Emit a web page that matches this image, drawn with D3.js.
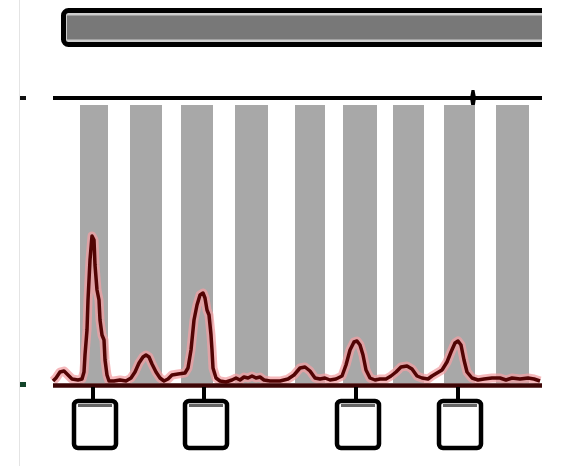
<!DOCTYPE html>
<html>
<head>
<meta charset="utf-8">
<script src="https://cdn.jsdelivr.net/npm/d3@7"></script>
<style>
  body { margin: 0; background: #fff; }
  svg { display: block; }
</style>
</head>
<body>
<div class="d3-wrapper"></div>
<script>
// positions are in units along the region, signal in intensity units
var regionSpan = [0, 245];
var axisMarks = [210];
var lanes = [[13.5, 27.5], [38.5, 54.5], [64, 80], [91, 107.5], [121, 136], [145, 162], [170, 185.5], [195.5, 211], [221.5, 238]];
var calledPeaks = [20, 75.5, 151.5, 202.5];

var tracePos = [0, 1.5, 3.5, 5.5, 7.5, 9.5, 12.5, 14.5, 15.5, 16, 17, 17.5, 18.5, 19.5, 20.5, 21, 22, 23, 23.5, 24.5, 25.5, 26, 27, 28, 30.5, 33.5, 36.5, 39, 41, 43, 45, 46.5, 48, 49.5, 51.5, 53.5, 55.5, 57.5, 59.5, 62.5, 66, 67.5, 69, 70.5, 72, 73.5, 75, 76, 77, 78, 79, 79.5, 80, 81.5, 83.5, 86.5, 89.5, 91.5, 93.5, 95.5, 97.5, 99.5, 101.5, 103.5, 105.5, 108.5, 113.5, 117.5, 120.5, 123.5, 126, 128.5, 131, 133.5, 136, 138.5, 141.5, 144.5, 146.5, 148.5, 150.5, 152, 153.5, 155, 156.5, 158.5, 161, 163.5, 166.5, 169, 171.5, 174, 177, 179.5, 182, 184.5, 187.5, 189.5, 192, 194.5, 197, 199, 201, 202.5, 204, 205.5, 207, 209.5, 212.5, 215.5, 219.5, 223.5, 226.5, 229.5, 233.5, 237.5, 240.5, 243.5];
var traceSignal = [2, 5, 11, 12, 8, 4, 3, 4, 11, 28, 53, 83, 123, 147, 143, 118, 93, 83, 63, 48, 43, 23, 8, 2, 2, 3, 2, 5, 11, 20, 26, 28, 26, 19, 11, 5, 2, 4, 8, 9, 10, 15, 33, 63, 78, 88, 90, 85, 73, 68, 48, 33, 15, 5, 2, 1, 3, 5, 3, 6, 5, 7, 5, 6, 3, 2, 2, 4, 8, 15, 16, 12, 5, 4, 5, 3, 4, 7, 18, 33, 41, 42, 38, 28, 13, 5, 3, 4, 4, 7, 11, 16, 17, 14, 7, 5, 4, 7, 10, 13, 21, 31, 40, 42, 38, 23, 11, 5, 3, 4, 5, 5, 3, 5, 4, 5, 4, 2];

var width = 562, height = 466;
var canvas = d3.select(".d3-wrapper").append("svg").attr("width", width).attr("height", height);

var x = d3.scaleLinear().domain(regionSpan).range([53, 543]);
var y = d3.scaleLinear().domain([0, 150]).range([383, 233]);

// faint page edge on the left
canvas.append("line").attr("x1", 19.5).attr("x2", 19.5).attr("y1", 0).attr("y2", height)
  .attr("stroke", "#e4e4e4").attr("stroke-width", 1);

// region bar on top, cut at the right edge
canvas.append("clipPath").attr("id", "barclip").append("rect")
  .attr("x", 0).attr("y", 0).attr("width", x(regionSpan[1]) - 1).attr("height", 60);
var bar = canvas.append("g").attr("clip-path", "url(#barclip)");
bar.append("rect").attr("x", x(regionSpan[0]) + 10.5).attr("y", 10.5)
  .attr("width", x(regionSpan[1]) - x(regionSpan[0])).attr("height", 34).attr("rx", 5)
  .attr("fill", "#cdcdcd").attr("stroke", "#000").attr("stroke-width", 5);
bar.append("rect").attr("x", x(regionSpan[0]) + 14).attr("y", 15.5)
  .attr("width", x(regionSpan[1]) - x(regionSpan[0])).attr("height", 24)
  .attr("fill", "#787878");

// sequence ruler
canvas.append("line").attr("x1", x(regionSpan[0])).attr("x2", x(regionSpan[1]) - 1)
  .attr("y1", 98).attr("y2", 98).attr("stroke", "#000").attr("stroke-width", 4);
canvas.selectAll(".ruler-mark").data(axisMarks).enter().append("path").attr("class", "ruler-mark")
  .attr("d", function(d) { var cx = x(d); return "M" + (cx - 1.5) + ",90 L" + (cx + 1.5) + ",90 L" + (cx + 3) + ",98 L" + (cx + 1.5) + ",107 L" + (cx - 1.5) + ",107 L" + (cx - 3) + ",98 Z"; })
  .attr("fill", "#000");

// left side markers
canvas.append("rect").attr("x", 20).attr("y", 96).attr("width", 6).attr("height", 4).attr("fill", "#111");
canvas.append("rect").attr("x", 20).attr("y", 382).attr("width", 6).attr("height", 5).attr("fill", "#14452a");

// gray lanes
canvas.selectAll(".lane").data(lanes).enter().append("rect").attr("class", "lane")
  .attr("x", function(d) { return x(d[0]); })
  .attr("width", function(d) { return x(d[1]) - x(d[0]); })
  .attr("y", 105).attr("height", y(0) - 105)
  .attr("fill", "#a8a8a8");

// signal trace
var line = d3.line().x(function(d, i) { return x(tracePos[i]); }).y(function(d) { return y(d); });
canvas.append("path").datum(traceSignal).attr("d", line)
  .attr("fill", "none").attr("stroke", "#f2a0a4").attr("stroke-width", 9).attr("stroke-linejoin", "round").attr("opacity", 0.75);
canvas.append("line").attr("x1", x(regionSpan[0])).attr("x2", x(regionSpan[1]) - 1)
  .attr("y1", y(0) + 2.5).attr("y2", y(0) + 2.5).attr("stroke", "#3d0606").attr("stroke-width", 4.5);
canvas.append("path").datum(traceSignal).attr("d", line)
  .attr("fill", "none").attr("stroke", "#520404").attr("stroke-width", 3.5).attr("stroke-linejoin", "round");

// called peaks: stem + box
var peakGroup = canvas.selectAll(".peak").data(calledPeaks).enter().append("g").attr("class", "peak");
peakGroup.append("line")
  .attr("x1", function(d) { return x(d); }).attr("x2", function(d) { return x(d); })
  .attr("y1", y(0) + 4).attr("y2", 400).attr("stroke", "#000").attr("stroke-width", 4);
peakGroup.append("rect")
  .attr("x", function(d) { return x(d) - 19; }).attr("y", 401).attr("width", 42).attr("height", 47).attr("rx", 4)
  .attr("fill", "#fff").attr("stroke", "#000").attr("stroke-width", 4.5);
peakGroup.append("rect")
  .attr("x", function(d) { return x(d) - 15; }).attr("y", 404).attr("width", 34).attr("height", 3)
  .attr("fill", "#666");
</script>
</body>
</html>
